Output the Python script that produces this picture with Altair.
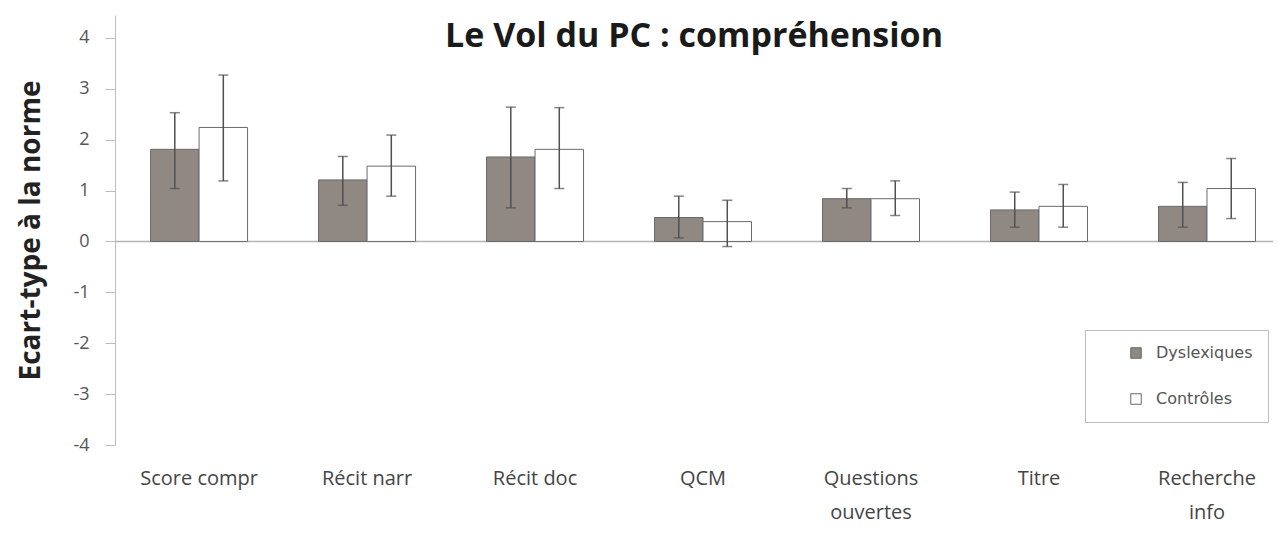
import altair as alt
import pandas as pd

categories = ["Score compr", "Récit narr", "Récit doc", "QCM",
              "Questions\nouvertes", "Titre", "Recherche\ninfo"]
groups = ["Dyslexiques", "Contrôles"]

dys_mean = [1.81, 1.21, 1.66, 0.47, 0.84, 0.62, 0.69]
dys_low = [1.04, 0.71, 0.66, 0.07, 0.66, 0.28, 0.28]
dys_high = [2.53, 1.67, 2.64, 0.89, 1.04, 0.97, 1.16]

ctrl_mean = [2.24, 1.48, 1.81, 0.39, 0.84, 0.69, 1.04]
ctrl_low = [1.19, 0.89, 1.04, -0.10, 0.51, 0.28, 0.45]
ctrl_high = [3.27, 2.09, 2.63, 0.81, 1.19, 1.12, 1.63]

y_ticks = [-4, -3, -2, -1, 0, 1, 2, 3, 4]

rows = []
for i, c in enumerate(categories):
    rows.append({"cat": c, "group": groups[0], "mean": dys_mean[i], "low": dys_low[i], "high": dys_high[i]})
    rows.append({"cat": c, "group": groups[1], "mean": ctrl_mean[i], "low": ctrl_low[i], "high": ctrl_high[i]})
df = pd.DataFrame(rows)

FONT = "Open Sans"
yscale = alt.Scale(domain=[-4, 4.45], nice=False, zero=False)

x_enc = alt.X("cat:N", sort=categories,
              scale=alt.Scale(paddingInner=0.4226, paddingOuter=0.158, align=0.67),
              axis=alt.Axis(title=None, domain=False, ticks=False, labelAngle=0,
                            labelFont=FONT, labelFontSize=20, labelColor="#454545",
                            labelPadding=23, labelLineHeight=34,
                            labelExpr="split(datum.label, '\\n')"))
xo_enc = alt.XOffset("group:N", sort=groups, scale=alt.Scale(paddingInner=0, paddingOuter=0))

base = alt.Chart(df).encode(x=x_enc, xOffset=xo_enc)

zero = alt.Chart(pd.DataFrame({"z": [0]})).mark_rule(color="#b5b5b5", strokeWidth=1.5).encode(
    y=alt.Y("z:Q", scale=yscale)
)

bars = base.mark_bar(stroke="#6a6a6a", strokeWidth=1).encode(
    y=alt.Y("mean:Q", scale=yscale,
            axis=alt.Axis(values=y_ticks, grid=False, domainColor="#bdbdbd", tickColor="#bdbdbd",
                          tickSize=10, labelFont=FONT, labelFontSize=18, labelColor="#555555",
                          labelPadding=16, labelExpr="'' + datum.value",
                          title="Ecart-type à la norme", titleFont=FONT,
                          titleFontSize=28, titleFontWeight="bold", titleColor="#222222",
                          titlePadding=27)),
    fill=alt.Fill("group:N", sort=groups,
                  scale=alt.Scale(domain=groups, range=["#8f8883", "#ffffff"]),
                  legend=alt.Legend(title=None, orient="none", legendX=970, legendY=315,
                                    strokeColor="#bdbdbd", fillColor="white", padding=15,
                                    symbolType="square", symbolSize=110, symbolOffset=28,
                                    symbolStrokeColor="#666666", symbolStrokeWidth=1,
                                    labelFont="DejaVu Sans", labelFontSize=16, labelColor="#555555",
                                    rowPadding=30, labelOffset=12)),
)

err = base.mark_rule(color="#505050", strokeWidth=1.5).encode(
    y=alt.Y("low:Q", scale=yscale), y2="high:Q"
)
cap_lo = base.mark_tick(color="#505050", thickness=1.5, size=10).encode(y=alt.Y("low:Q", scale=yscale))
cap_hi = base.mark_tick(color="#505050", thickness=1.5, size=10).encode(y=alt.Y("high:Q", scale=yscale))

chart = alt.layer(zero, bars, err, cap_lo, cap_hi).properties(
    width=1158, height=430,
    padding={"left": 107, "top": 7, "right": 0, "bottom": 81},
    autosize=alt.AutoSizeParams(type="none"),
    title=alt.Title("Le Vol du PC : compréhension", font=FONT, fontSize=34, fontWeight="bold",
                    color="#1a1a1a", offset=-39, anchor="middle"),
).configure_view(stroke=None)

chart.save("out.html", embed_options={"renderer": "svg", "actions": False})
